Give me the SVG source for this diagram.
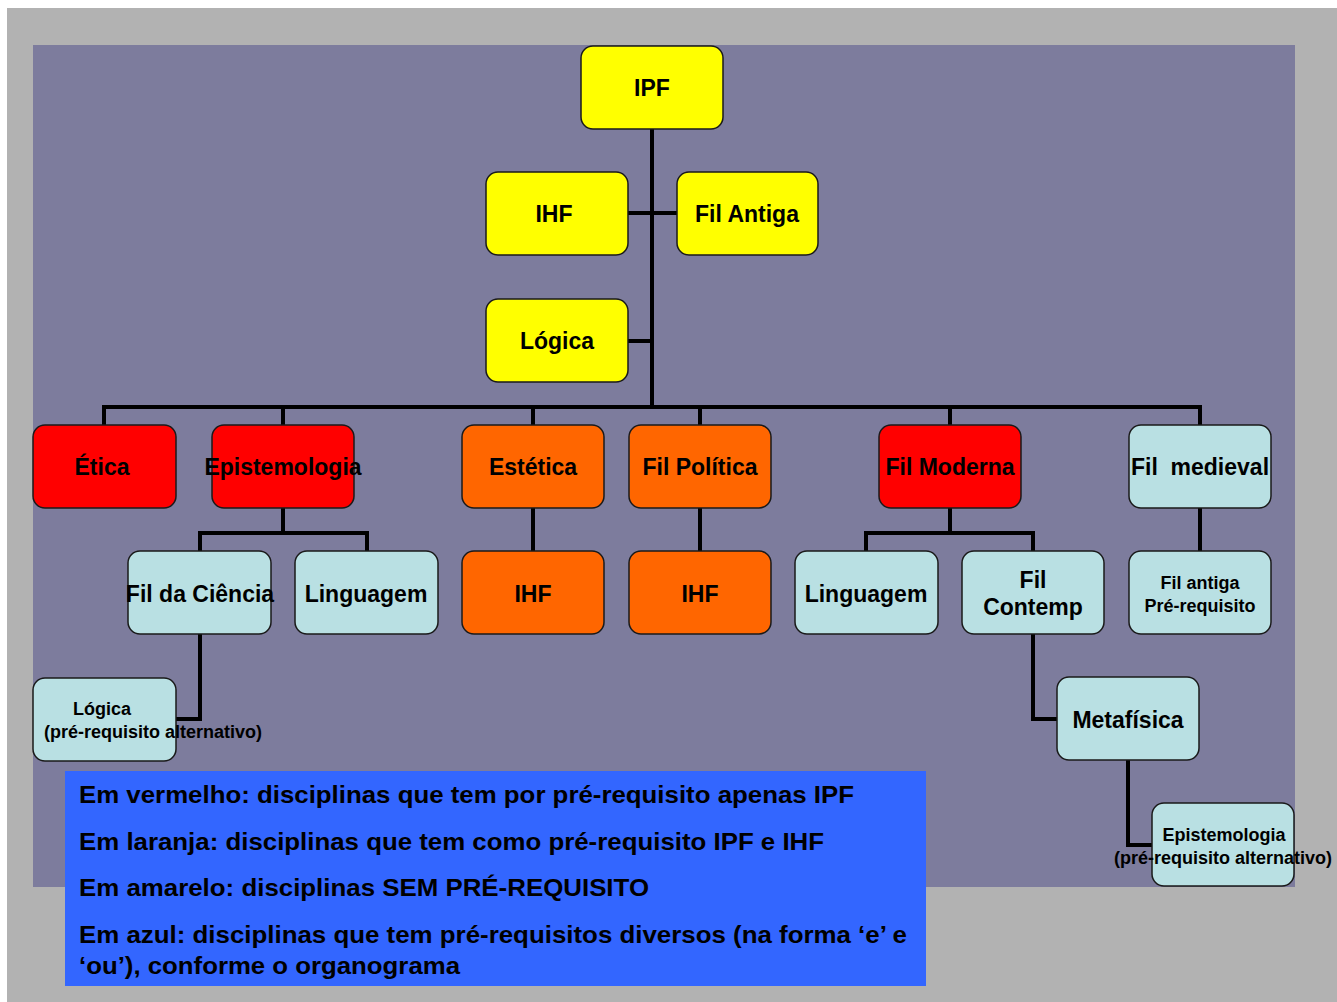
<svg xmlns="http://www.w3.org/2000/svg" width="1337" height="1002" viewBox="0 0 1337 1002">
<style>
.n{stroke:#1a1a1a;stroke-width:1.5}
.y{fill:#ffff00}.r{fill:#ff0000}.o{fill:#ff6600}.b{fill:#b9e0e3}
.t{font-family:"Liberation Sans",Arial,sans-serif;font-weight:bold;font-size:23px;fill:#000;text-anchor:middle}
.s{font-family:"Liberation Sans",Arial,sans-serif;font-weight:bold;font-size:18px;fill:#000;text-anchor:middle}
.l{font-family:"Liberation Sans",Arial,sans-serif;font-weight:bold;font-size:24px;fill:#000}
.c{fill:none;stroke:#000;stroke-width:4}
</style>
<rect x="0" y="0" width="1337" height="1002" fill="#ffffff"/>
<rect x="7" y="8" width="1330" height="994" fill="#b2b2b2"/>
<rect x="33" y="45" width="1262" height="842" fill="#7d7c9d"/>
<g id="connectors">
<path class="c" d="M652 129V407M628 213H677M628 341H652M104 425V407H1200V425M283 407V425M533 407V425M700 407V425M950 407V425"/>
<path class="c" d="M283 508V533M200 551V533H367V551M533 508V551M700 508V551M950 508V533M866 551V533H1033V551M1200 508V551"/>
<path class="c" d="M200 634V719H176M1033 634V719H1057M1128 760V845H1152"/>
</g>
<g id="ipf"><rect class="n y" x="581" y="46" width="142" height="83" rx="12"/><text class="t" x="652" y="96">IPF</text></g>
<g id="ihf"><rect class="n y" x="486" y="172" width="142" height="83" rx="12"/><text class="t" x="554" y="222">IHF</text></g>
<g id="filantiga"><rect class="n y" x="677" y="172" width="141" height="83" rx="12"/><text class="t" x="747" y="222">Fil Antiga</text></g>
<g id="logica"><rect class="n y" x="486" y="299" width="142" height="83" rx="12"/><text class="t" x="557" y="349">Lógica</text></g>
<g id="etica"><rect class="n r" x="33" y="425" width="143" height="83" rx="12"/><text class="t" x="102" y="475">Ética</text></g>
<g id="epistemologia"><rect class="n r" x="212" y="425" width="142" height="83" rx="12"/><text class="t" x="283" y="475">Epistemologia</text></g>
<g id="estetica"><rect class="n o" x="462" y="425" width="142" height="83" rx="12"/><text class="t" x="533" y="475">Estética</text></g>
<g id="filpolitica"><rect class="n o" x="629" y="425" width="142" height="83" rx="12"/><text class="t" x="700" y="475">Fil Política</text></g>
<g id="filmoderna"><rect class="n r" x="879" y="425" width="142" height="83" rx="12"/><text class="t" x="950" y="475">Fil Moderna</text></g>
<g id="filmedieval"><rect class="n b" x="1129" y="425" width="142" height="83" rx="12"/><text class="t" x="1200" y="475" xml:space="preserve">Fil  medieval</text></g>
<g id="filciencia"><rect class="n b" x="128" y="551" width="143" height="83" rx="12"/><text class="t" x="200" y="602">Fil da Ciência</text></g>
<g id="linguagem1"><rect class="n b" x="295" y="551" width="143" height="83" rx="12"/><text class="t" x="366" y="602">Linguagem</text></g>
<g id="ihf2"><rect class="n o" x="462" y="551" width="142" height="83" rx="12"/><text class="t" x="533" y="602">IHF</text></g>
<g id="ihf3"><rect class="n o" x="629" y="551" width="142" height="83" rx="12"/><text class="t" x="700" y="602">IHF</text></g>
<g id="linguagem2"><rect class="n b" x="795" y="551" width="143" height="83" rx="12"/><text class="t" x="866" y="602">Linguagem</text></g>
<g id="filcontemp"><rect class="n b" x="962" y="551" width="142" height="83" rx="12"/><text class="t" x="1033" y="588">Fil</text><text class="t" x="1033" y="615">Contemp</text></g>
<g id="filantiga2"><rect class="n b" x="1129" y="551" width="142" height="83" rx="12"/><text class="s" x="1200" y="589">Fil antiga</text><text class="s" x="1200" y="612">Pré-requisito</text></g>
<g id="logica2"><rect class="n b" x="33" y="678" width="143" height="83" rx="12"/><text class="s" x="102" y="715">Lógica</text><text class="s" x="153" y="738">(pré-requisito alternativo)</text></g>
<g id="metafisica"><rect class="n b" x="1057" y="677" width="142" height="83" rx="12"/><text class="t" x="1128" y="728">Metafísica</text></g>
<g id="epistemologia2"><rect class="n b" x="1152" y="803" width="142" height="83" rx="12"/><text class="s" x="1224" y="841">Epistemologia</text><text class="s" x="1223" y="864">(pré-requisito alternativo)</text></g>
<g id="legend">
<rect x="65" y="771" width="861" height="215" fill="#3366ff"/>
<text class="l" x="79" y="803" textLength="775" lengthAdjust="spacingAndGlyphs">Em vermelho: disciplinas que tem por pré-requisito apenas IPF</text>
<text class="l" x="79" y="850" textLength="745" lengthAdjust="spacingAndGlyphs">Em laranja: disciplinas que tem como pré-requisito IPF e IHF</text>
<text class="l" x="79" y="896" textLength="570" lengthAdjust="spacingAndGlyphs">Em amarelo: disciplinas SEM PRÉ-REQUISITO</text>
<text class="l" x="79" y="943" textLength="828" lengthAdjust="spacingAndGlyphs">Em azul: disciplinas que tem pré-requisitos diversos (na forma ‘e’ e</text>
<text class="l" x="79" y="974" textLength="381" lengthAdjust="spacingAndGlyphs">‘ou’), conforme o organograma</text>
</g>
</svg>
